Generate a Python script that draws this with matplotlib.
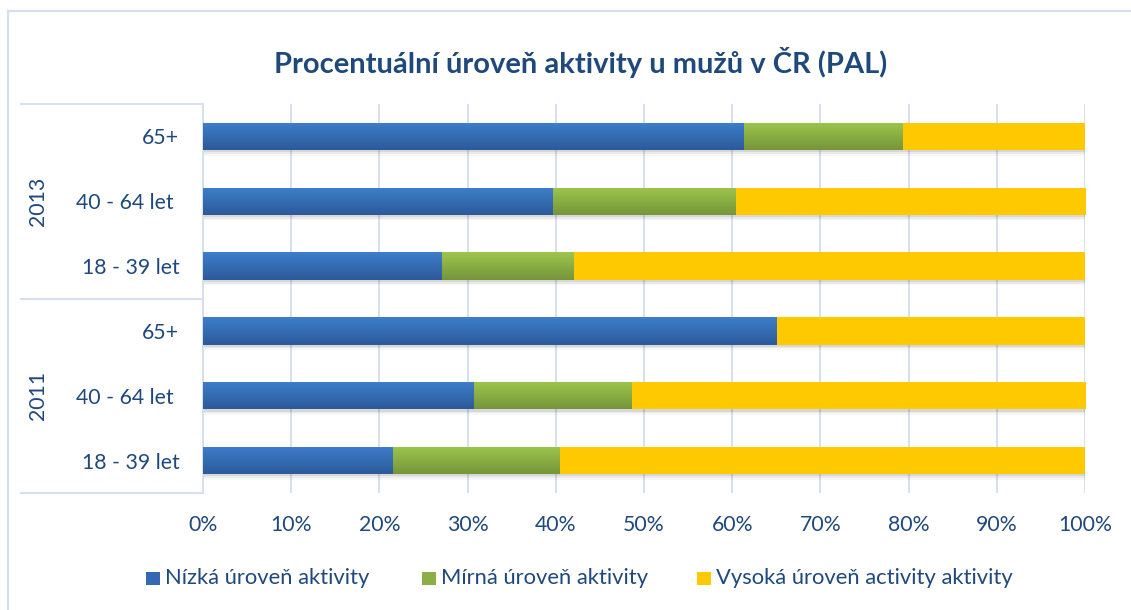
import numpy as np
import matplotlib
matplotlib.use("Agg")
import matplotlib.pyplot as plt
from matplotlib.colors import LinearSegmentedColormap
from matplotlib.patches import Rectangle
from matplotlib.lines import Line2D
import matplotlib.transforms as mtransforms

# ---------------- data ----------------
title = "Procentuální úroveň aktivity u mužů v ČR (PAL)"
years = ["2011", "2013"]
age_groups = ["18 - 39 let", "40 - 64 let ", "65+"]
series_names = ["Nízká úroveň aktivity", "Mírná úroveň aktivity",
                "Vysoká úroveň activity aktivity"]
# order: 2011 (18-39, 40-64, 65+), 2013 (18-39, 40-64, 65+)
low = [21.5, 30.7, 65.1, 27.1, 39.7, 61.3]
moderate = [19.0, 17.9, 0.0, 15.0, 20.7, 18.1]
high = [59.5, 51.4, 34.9, 57.9, 39.6, 20.6]
xticks = [0, 10, 20, 30, 40, 50, 60, 70, 80, 90, 100]
xtick_labels = ["0%", "10%", "20%", "30%", "40%", "50%", "60%", "70%", "80%", "90%", "100%"]

# ---------------- style ----------------
W, H = 1131, 610
DPI = 100
TXT = "#1F497D"
GRID = "#D5E0EF"
FONT = ["Lato", "DejaVu Sans"]
plt.rcParams["font.family"] = FONT
LBL = 15.3

grad = {
    0: ("#2C5A9A", "#3D7ECB"),   # blue bottom, top
    1: ("#76953A", "#9DC64C"),   # green
    2: ("#FFC900", "#FFC900"),   # yellow
}
flat = ["#3468B2", "#8BAF44", "#FFC900"]

fig = plt.figure(figsize=(W / DPI, H / DPI), dpi=DPI)
ax = fig.add_axes([203 / W, 1 - 493 / H, 882 / W, 389 / H])

ypos = np.arange(len(low))
bh = 0.42

# shadows
totals = np.array(low) + np.array(moderate) + np.array(high)
for k, (dy, a) in enumerate([(0.035, 0.10), (0.06, 0.07), (0.085, 0.04)]):
    ax.barh(ypos - dy, totals, height=bh, left=dy * 0.6, color="#404040",
            alpha=a, linewidth=0, zorder=1)

left = np.zeros(len(low))
handles = []
for si, vals in enumerate([low, moderate, high]):
    vals = np.array(vals)
    bars = ax.barh(ypos, vals, height=bh, left=left, color=flat[si],
                   linewidth=0, zorder=2, label=series_names[si])
    handles.append(bars)
    cmap = LinearSegmentedColormap.from_list("g%d" % si, list(grad[si]))
    g = np.linspace(0, 1, 64).reshape(-1, 1)
    for rect in bars:
        x0, y0 = rect.get_x(), rect.get_y()
        w, h = rect.get_width(), rect.get_height()
        if w <= 0:
            continue
        im = ax.imshow(g, cmap=cmap, origin="lower", aspect="auto",
                       extent=[x0, x0 + w, y0, y0 + h], zorder=3,
                       interpolation="bilinear")
        im.set_clip_path(rect)
    left = left + vals

ax.set_xlim(0, 100)
ax.set_ylim(-0.5, len(low) - 0.5)
ax.set_xticks(xticks)
ax.set_xticklabels(xtick_labels)
ax.set_yticks(ypos)
ax.set_yticklabels(age_groups * len(years))
ax.tick_params(axis="both", length=0, colors=TXT, labelsize=LBL)
ax.tick_params(axis="x", pad=16)
ax.tick_params(axis="y", pad=17)
ax.xaxis.grid(True, color=GRID, linewidth=1.4, zorder=0)
ax.set_axisbelow(True)
for s in ["top", "right", "bottom"]:
    ax.spines[s].set_visible(False)
ax.spines["left"].set_color(GRID)
ax.spines["left"].set_linewidth(1.4)

# group panel lines and year labels
tr = mtransforms.blended_transform_factory(fig.transFigure, ax.transData)
for yb in [-0.5, 2.5, 5.5]:
    fig.add_artist(Line2D([21 / W, 203 / W], [yb, yb], transform=tr,
                          color=GRID, linewidth=1.4))
for gi, yr in enumerate(years):
    fig.text(38 / W, 3 * gi + 1, yr, transform=tr, rotation=90,
             ha="center", va="center", color=TXT, fontsize=LBL)

# outer chart border
fig.add_artist(Line2D([7.5 / W, 7.5 / W], [0, 1 - 11 / H], transform=fig.transFigure,
                      color=GRID, linewidth=1.6))
fig.add_artist(Line2D([7.5 / W, 1], [1 - 11 / H, 1 - 11 / H], transform=fig.transFigure,
                      color=GRID, linewidth=1.6))

# title
fig.text(581 / W, 1 - 62 / H, title, ha="center", va="center",
         fontsize=21, fontweight="bold", color=TXT)

# legend
sq_x = [146, 422, 697]
for si, name in enumerate(series_names):
    fig.add_artist(Rectangle((sq_x[si] / W, 1 - 585 / H), 14 / W, 13 / H,
                             transform=fig.transFigure, facecolor=flat[si],
                             edgecolor="none"))
    fig.text((sq_x[si] + 19) / W, 1 - 578 / H, name, ha="left", va="center",
             color=TXT, fontsize=15.8)

fig.savefig("out.png", dpi=DPI, facecolor="white")
